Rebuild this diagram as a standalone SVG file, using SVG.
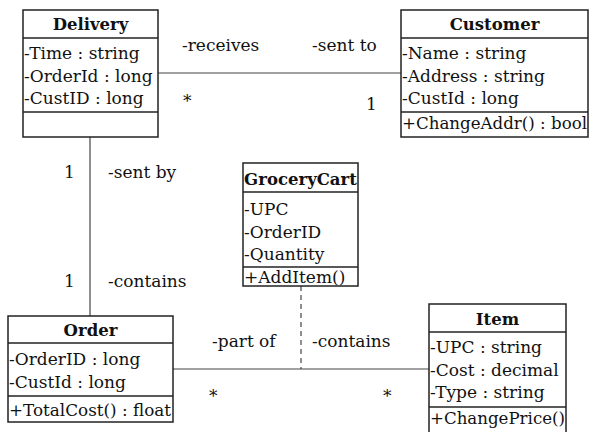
<svg xmlns="http://www.w3.org/2000/svg" width="590" height="432" viewBox="0 0 590 432">
<style>
text{font-family:"DejaVu Serif","Liberation Serif",serif;font-size:17px;fill:#111}
.h{font-weight:bold;text-anchor:middle;font-size:16.5px}
.box{fill:#fff;stroke:#222;stroke-width:1.5}
.div{stroke:#222;stroke-width:1.5}
.con{stroke:#444;stroke-width:1.2;fill:none}
.dash{stroke:#444;stroke-width:1.2;stroke-dasharray:5 4;fill:none}
</style>
<rect width="590" height="432" fill="#fff"/>
<g id="connectors">
<line class="con" x1="158" y1="73" x2="401" y2="73"/>
<line class="con" x1="90" y1="137" x2="90" y2="316"/>
<line class="con" x1="173" y1="369" x2="429" y2="369"/>
<line class="dash" x1="301" y1="286" x2="301" y2="369"/>
<text x="182" y="51">-receives</text>
<text x="312" y="51">-sent to</text>
<text x="183" y="107">*</text>
<text x="366" y="110">1</text>
<text x="64" y="178">1</text>
<text x="108" y="178">-sent by</text>
<text x="64" y="287">1</text>
<text x="108" y="287">-contains</text>
<text x="212" y="347">-part of</text>
<text x="312" y="347">-contains</text>
<text x="209" y="402">*</text>
<text x="383" y="402">*</text>
</g>
<g id="delivery">
<rect class="box" x="23" y="10" width="135" height="127"/>
<line class="div" x1="23" y1="38" x2="158" y2="38"/>
<line class="div" x1="23" y1="112" x2="158" y2="112"/>
<text class="h" x="90.5" y="30">Delivery</text>
<text x="24" y="59">-Time : string</text>
<text x="24" y="82">-OrderId : long</text>
<text x="24" y="104">-CustID : long</text>
</g>
<g id="customer">
<rect class="box" x="401" y="10" width="187" height="127"/>
<line class="div" x1="401" y1="38" x2="588" y2="38"/>
<line class="div" x1="401" y1="112" x2="588" y2="112"/>
<text class="h" x="494.5" y="30">Customer</text>
<text x="402" y="59">-Name : string</text>
<text x="402" y="82">-Address : string</text>
<text x="402" y="104">-CustId : long</text>
<text x="402" y="129" textLength="185" lengthAdjust="spacingAndGlyphs">+ChangeAddr() : bool</text>
</g>
<g id="grocerycart">
<rect class="box" x="243" y="163" width="115" height="123"/>
<line class="div" x1="243" y1="192" x2="358" y2="192"/>
<line class="div" x1="243" y1="267" x2="358" y2="267"/>
<text class="h" x="300.5" y="185">GroceryCart</text>
<text x="244" y="215">-UPC</text>
<text x="244" y="238">-OrderID</text>
<text x="244" y="260">-Quantity</text>
<text x="244" y="283">+AddItem()</text>
</g>
<g id="order">
<rect class="box" x="8" y="316" width="165" height="106"/>
<line class="div" x1="8" y1="343" x2="173" y2="343"/>
<line class="div" x1="8" y1="396" x2="173" y2="396"/>
<text class="h" x="90.5" y="336">Order</text>
<text x="9" y="365">-OrderID : long</text>
<text x="9" y="388">-CustId : long</text>
<text x="9" y="416" textLength="162" lengthAdjust="spacingAndGlyphs">+TotalCost() : float</text>
</g>
<g id="item">
<rect class="box" x="429" y="304" width="137" height="134"/>
<line class="div" x1="429" y1="332" x2="566" y2="332"/>
<line class="div" x1="429" y1="407" x2="566" y2="407"/>
<text class="h" x="497.5" y="325">Item</text>
<text x="430" y="353">-UPC : string</text>
<text x="430" y="376">-Cost : decimal</text>
<text x="430" y="398">-Type : string</text>
<text x="430" y="424" textLength="135" lengthAdjust="spacingAndGlyphs">+ChangePrice()</text>
</g>
</svg>
